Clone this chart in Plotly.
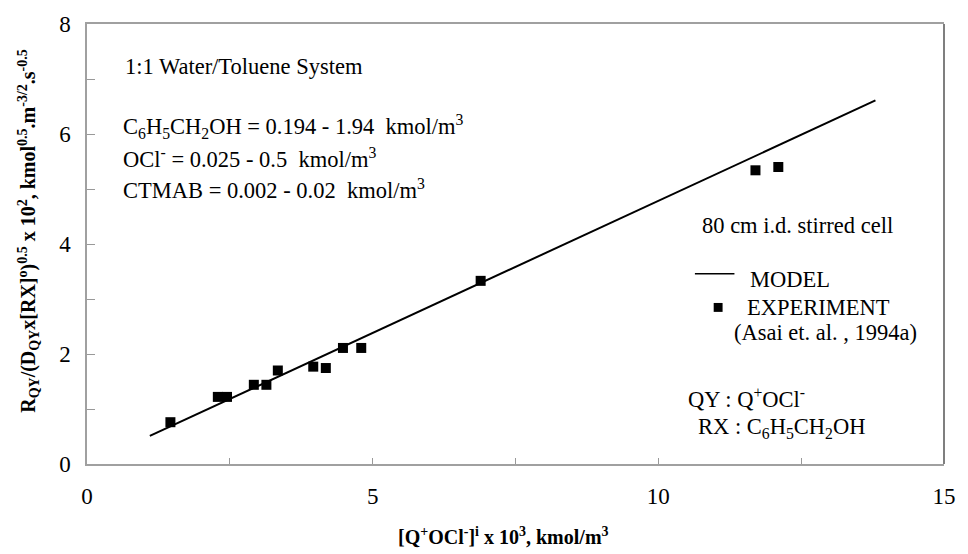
import plotly.graph_objects as go

# Experimental points: interfacial Q+OCl- concentration (x 10^3) vs. normalised rate
exp_x = [1.46, 2.29, 2.45, 2.92, 3.14, 3.34, 3.96, 4.18, 4.48, 4.80, 6.89, 11.70, 12.10]
exp_y = [0.76, 1.22, 1.22, 1.44, 1.44, 1.70, 1.77, 1.745, 2.11, 2.11, 3.33, 5.34, 5.40]

# Model prediction (straight line)
model_x = [1.10, 13.80]
model_y = [0.51, 6.61]

x_ticks = [0, 5, 10, 15]
y_ticks = [0, 2, 4, 6, 8]

W, H = 968, 554
L, R, T, B = 87, 14, 20, 90
PW, PH = W - L - R, H - T - B

FONT = "Liberation Serif"


def px(x):
    return (x - L) / PW


def py(y):
    return (H - B - y) / PH


fig = go.Figure()

fig.add_trace(go.Scatter(
    x=model_x, y=model_y, mode="lines",
    line=dict(color="black", width=2), showlegend=False, hoverinfo="skip"))

fig.add_trace(go.Scatter(
    x=exp_x, y=exp_y, mode="markers",
    marker=dict(symbol="square", size=10, color="black"),
    showlegend=False))

axis_common = dict(
    showgrid=False, zeroline=False,
    ticks="inside", tickcolor="#999999", tickwidth=1,
    showline=True, linecolor="#a0a0a0", linewidth=1.5,
    tickfont=dict(family=FONT, size=23, color="black"),
)

fig.update_xaxes(
    range=[0, 15], tickvals=x_ticks, ticklen=6, mirror=True,
    minor=dict(dtick=2.5, ticks="inside", ticklen=6, tickcolor="#999999"),
    ticklabelstandoff=11, **axis_common)
fig.update_yaxes(
    range=[0, 8], tickvals=y_ticks, ticklen=8,
    minor=dict(dtick=1, ticks="inside", ticklen=8, tickcolor="#999999"),
    ticklabelstandoff=10, **axis_common)

# darker right frame edge
fig.add_shape(type="line", xref="paper", yref="paper",
              x0=1, x1=1, y0=0, y1=1, line=dict(color="#555555", width=1.5))

ann = [
    (123, 63, "1:1 Water/Toluene System"),
    (121, 123, "C<sub>6</sub>H<sub>5</sub>CH<sub>2</sub>OH = 0.194 - 1.94  kmol/m<sup>3</sup>"),
    (121, 155, "OCl<sup>-</sup> = 0.025 - 0.5  kmol/m<sup>3</sup>"),
    (121, 187, "CTMAB = 0.002 - 0.02  kmol/m<sup>3</sup>"),
    (707, 223, "80 cm i.d. stirred cell"),
    (756, 278, "MODEL"),
    (753, 306, "EXPERIMENT"),
    (740, 331, "(Asai et. al. , 1994a)"),
    (693, 397, "QY : Q<sup>+</sup>OCl<sup>-</sup>"),
    (703, 428, "RX : C<sub>6</sub>H<sub>5</sub>CH<sub>2</sub>OH"),
]
for x, y, t in ann:
    fig.add_annotation(x=px(x), y=py(y), xref="paper", yref="paper",
                       text=t, showarrow=False, xanchor="left", yanchor="middle",
                       font=dict(family=FONT, size=22.5, color="black"))

# legend glyphs
fig.add_shape(type="line", xref="paper", yref="paper",
              x0=px(702), x1=px(742), y0=py(272), y1=py(272),
              line=dict(color="black", width=1.5))
fig.add_shape(type="rect", xref="paper", yref="paper",
              x0=px(721), x1=px(730), y0=py(301.5), y1=py(310.5),
              line=dict(width=0), fillcolor="black")

# axis titles
fig.add_annotation(
    x=px(508), y=py(537), xref="paper", yref="paper", showarrow=False,
    xanchor="center", yanchor="middle",
    text="<b>[Q<sup>+</sup>OCl<sup>-</sup>]<sup>i</sup> x 10<sup>3</sup>, kmol/m<sup>3</sup></b>",
    font=dict(family=FONT, size=20, color="black"))
fig.add_annotation(
    x=px(28), y=py(229), xref="paper", yref="paper", showarrow=False, textangle=-90,
    xanchor="center", yanchor="middle",
    text="<b>R<sub>QY</sub>/(D<sub>QY</sub>x[RX]<sup>o</sup>)<sup>0.5</sup> x 10<sup>2</sup>, "
         "kmol<sup>0.5</sup>.m<sup>-3/2</sup>.s<sup>-0.5</sup></b>",
    font=dict(family=FONT, size=20, color="black"))

fig.update_layout(
    width=W, height=H,
    margin=dict(l=L, r=R, t=T, b=B),
    paper_bgcolor="white", plot_bgcolor="white",
    font=dict(family=FONT, color="black"),
)

fig.write_html("out.html")
